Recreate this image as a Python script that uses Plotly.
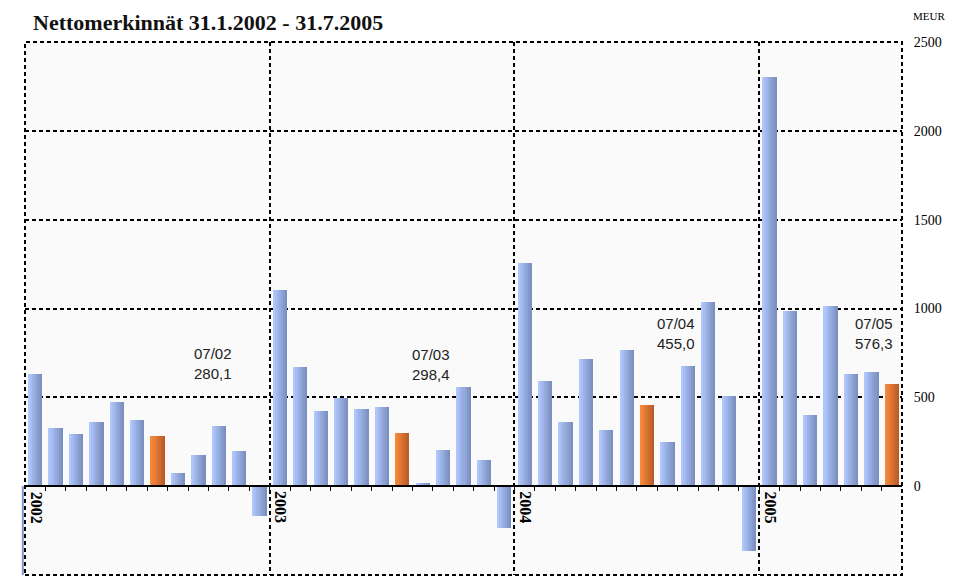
import numpy as np
import plotly.graph_objects as go

# monthly net subscriptions, MEUR, 1/2002 - 7/2005
months = [f"{m:02d}/{y % 100:02d}" for y in range(2002, 2006) for m in range(1, 13)][:43]
netto = [631, 327, 293, 361, 473, 372, 280.1, 73, 175, 338, 197, -167,
         1105, 671, 423, 496, 434, 445, 298.4, 17, 203, 558, 147, -235,
         1257, 592, 361, 716, 316, 767, 455.0, 248, 676, 1037, 507, -365,
         2302, 984, 399, 1014, 630, 641, 576.3]
years = ["2002", "2003", "2004", "2005"]
y_ticks = [-500, 0, 500, 1000, 1500, 2000, 2500]

# july callouts
july_text = ["07/02<br>280,1", "07/03<br>298,4", "07/04<br>455,0", "07/05<br>576,3"]
july_x = [8.2, 18.9, 30.9, 40.6]
july_y = [690, 684, 862, 862]

xs = np.arange(len(netto)) + 0.5
is_july = [m.startswith("07/") for m in months]

# page body has an 8px margin, so the figure is 8px smaller each way
W, H = 960, 573
plot_h = H - 34 - 6


def mix(c1, c2, t):
    c = [round(a + (b - a) * t) for a, b in zip(c1, c2)]
    return f"rgb({c[0]},{c[1]},{c[2]})"


blue_l, blue_r = (175, 199, 252), (123, 143, 192)
orange_l, orange_r = (246, 136, 58), (187, 92, 40)

fig = go.Figure()

# fake a horizontal gradient with narrow overlapping strips
n_strip = 7
bar_w = 0.7
sw = bar_w / n_strip
for k in range(n_strip):
    t = k / (n_strip - 1)
    cols = [mix(orange_l, orange_r, t) if j else mix(blue_l, blue_r, t) for j in is_july]
    w = sw if k == n_strip - 1 else sw * 1.6
    fig.add_trace(go.Bar(x=xs, y=netto, width=w, offset=-bar_w / 2 + k * sw,
                         marker=dict(color=cols, line=dict(width=0)),
                         customdata=months, hovertemplate="%{customdata}: %{y}<extra></extra>",
                         showlegend=False))

# axis along zero with month ticks
fig.add_trace(go.Scatter(x=[0, 43], y=[None, None], xaxis="x2", showlegend=False, hoverinfo="skip"))

for txt, x, y in zip(july_text, july_x, july_y):
    fig.add_annotation(x=x, y=y, text=txt, showarrow=False, xanchor="left", yanchor="middle",
                       align="left", font=dict(family="Liberation Sans", size=15, color="#222"))

for i, yr in enumerate(years):
    fig.add_annotation(x=i * 12, y=0, text=f"<b>{yr}</b>", showarrow=False, textangle=90,
                       xanchor="left", yanchor="top", xshift=1, yshift=-3,
                       font=dict(family="Liberation Serif", size=16, color="black"))

fig.add_annotation(xref="paper", yref="paper", x=1.01, y=1 + 26 / plot_h, text="MEUR", showarrow=False,
                   xanchor="left", yanchor="middle",
                   font=dict(family="Liberation Serif", size=11, color="black"))

# dotted frame (grid lines at the range ends are not drawn by plotly)
fig.add_shape(type="rect", xref="paper", yref="paper", x0=0, x1=1, y0=0, y1=1, layer="below",
              line=dict(color="black", width=2, dash="4px,3px"))

fig.add_shape(type="line", xref="paper", yref="y", x0=-0.0025, x1=-0.0025, y0=-500, y1=0,
              line=dict(color="#7f93c6", width=2))

grid = dict(showgrid=True, gridcolor="black", gridwidth=2, griddash="4px,3px")

fig.update_layout(
    width=W, height=H,
    margin=dict(l=17, r=66, t=34, b=6),
    paper_bgcolor="white", plot_bgcolor="#fafafa",
    barmode="overlay", bargap=0,
    title=dict(text="<b>Nettomerkinnät 31.1.2002 - 31.7.2005</b>", xref="container", yref="container",
               x=25 / W, y=1 - 14 / H, xanchor="left", yanchor="middle",
               font=dict(family="Liberation Serif", size=22, color="#111")),
    xaxis=dict(range=[0, 43], tickvals=[0, 12, 24, 36, 43], showticklabels=False, ticks="",
               zeroline=False, showline=False, **grid),
    xaxis2=dict(range=[0, 43], overlaying="x", anchor="free", position=1 / 6, side="bottom",
                tickvals=list(range(1, 43)), ticks="outside", ticklen=4, tickwidth=1, tickcolor="black",
                showticklabels=False, showgrid=False, zeroline=False,
                showline=True, linecolor="black", linewidth=2),
    yaxis=dict(range=[-500, 2500], tickvals=y_ticks, side="right", zeroline=False,
               ticks="outside", ticklen=8, tickcolor="rgba(0,0,0,0)",
               tickfont=dict(family="Liberation Serif", size=14, color="black"), **grid),
)

fig.write_html("out.html")
